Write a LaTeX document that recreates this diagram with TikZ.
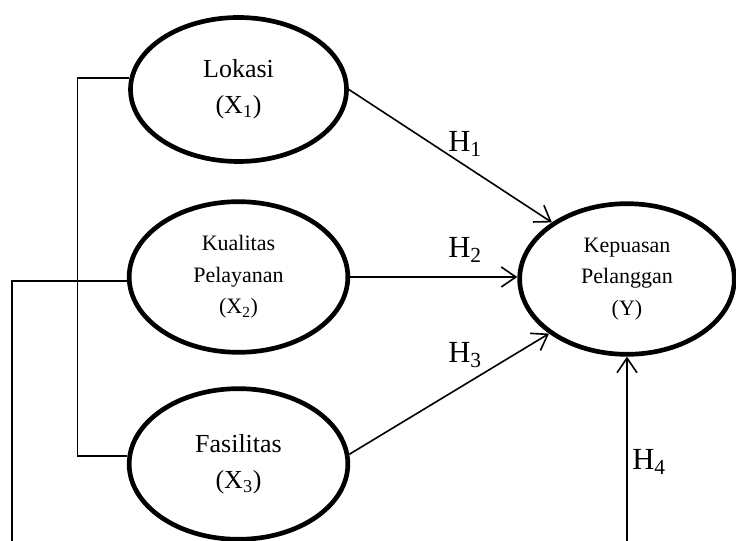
\documentclass[tikz,border=0pt]{standalone}
\usepackage{fontspec}
\setmainfont{Liberation Serif}
\usetikzlibrary{shapes.geometric, arrows.meta, positioning, calc}
\tikzset{
  latent/.style={ellipse, draw, line width=3.5pt, inner sep=0pt,
    minimum width=164pt, minimum height=113pt, align=center},
  bigtxt/.style={font=\fontsize{19.5}{27}\selectfont},
  smalltxt/.style={font=\fontsize{16.5}{23.5}\selectfont},
  arrow/.style={-{Straight Barb[length=11pt, width=15pt]}, line width=1.2pt},
  link/.style={line width=1.2pt},
  hlbl/.style={font=\fontsize{23}{23}\selectfont, anchor=base west, inner sep=0pt}
}

\begin{document}
\begin{tikzpicture}[x=0.75pt, y=-0.75pt]
  \useasboundingbox (0,0) rectangle (736,541);
  % latent variables
  \node[latent, bigtxt, minimum width=162pt, minimum height=108pt] (X1) at (238.5,89.5) {Lokasi\\(X\textsubscript{1})};
  \node[latent, smalltxt] (X2) at (238.5,277) {Kualitas\\Pelayanan\\(X\textsubscript{2})};
  \node[latent, bigtxt] (X3) at (238.5,464) {Fasilitas\\(X\textsubscript{3})};
  \node[latent, smalltxt, minimum width=161pt] (Y) at (627,279) {Kepuasan\\Pelanggan\\(Y)};
  \coordinate (lb) at (12,545);
  \coordinate (rb) at (627,545);
  % connectors
  \draw[link] (X1.174) -- ++(-52,0) |- (X3.176);
  \draw[link] (X2.182) -| (lb);
  \draw[arrow] (X1.east) -- (Y.143);
  \draw[arrow] (X2.east) -- (X2.east -| Y.west);
  \draw[arrow] (X3.5) -- (Y.215);
  \draw[arrow] (rb) -- (Y.south);
  % labels
  \node[hlbl] (h1) at (448,152) {H\textsubscript{1}};
  \node[hlbl] (h2) at (448,258) {H\textsubscript{2}};
  \node[hlbl] (h3) at (448,363) {H\textsubscript{3}};
  \node[hlbl] (h4) at (632,470) {H\textsubscript{4}};
\end{tikzpicture}
\end{document}
